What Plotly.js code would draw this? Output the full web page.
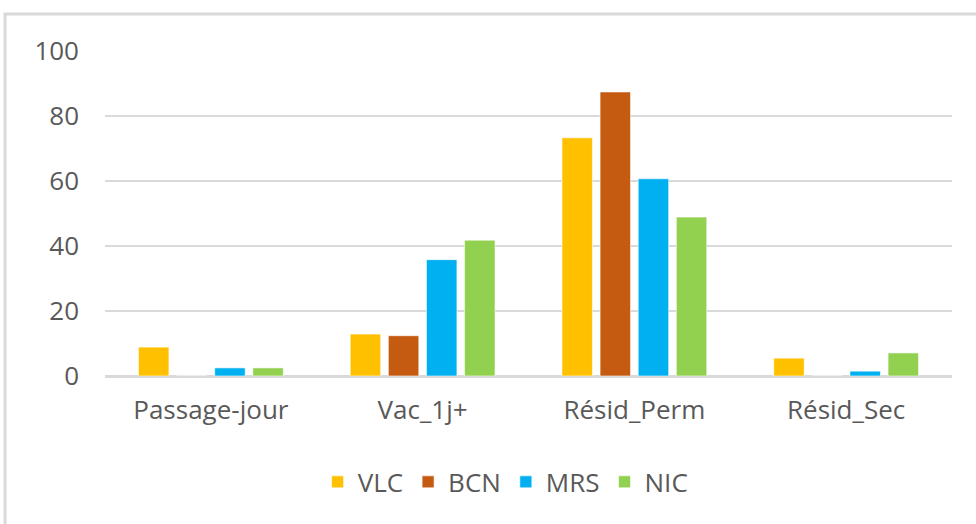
<!DOCTYPE html>
<html>
<head>
<meta charset="utf-8">
<script src="https://cdn.plot.ly/plotly-3.0.1.min.js"></script>
<style>html,body{margin:0;padding:0;background:#fff;}#chart{width:976px;height:524px;}</style>
</head>
<body>
<div id="chart"></div>
<script>
const categories = ["Passage-jour", "Vac_1j+", "Résid_Perm", "Résid_Sec"];
const seriesNames = ["VLC", "BCN", "MRS", "NIC"];
const VLC = [8.9, 12.9, 73.3, 5.5];
const BCN = [0, 12.4, 87.4, 0];
const MRS = [2.5, 35.8, 60.7, 1.5];
const NIC = [2.5, 41.8, 48.9, 7.1];
const colors = ["#FFC000", "#C55A11", "#00B0F0", "#92D050"];
const yTicks = [0, 20, 40, 60, 80, 100];

const values = [VLC, BCN, MRS, NIC];
const traces = seriesNames.map((n, i) => ({
  type: "bar",
  name: n,
  x: categories,
  y: values[i],
  marker: {color: colors[i], line: {color: "rgba(255,255,255,0.6)", width: 1}},
  hoverinfo: "skip"
}));

const fam = "Open Sans, Noto Sans, sans-serif";

const layout = {
  width: 976, height: 524,
  margin: {l: 105, r: 24, t: 51, b: 148},
  paper_bgcolor: "#fff", plot_bgcolor: "#fff",
  barmode: "group", bargap: 0.28, bargroupgap: 0.2,
  font: {family: fam, size: 26, color: "#595959"},
  showlegend: true,
  legend: {orientation: "h", x: 0.473, xanchor: "center", y: -0.326, yanchor: "middle",
           font: {family: fam, size: 26, color: "#595959"}, traceorder: "normal"},
  xaxis: {showgrid: false, showline: false, zeroline: false, ticks: "",
          tickfont: {family: fam, size: 26, color: "#595959"}, ticklabelstandoff: 16},
  yaxis: {range: [0, 100], tickvals: yTicks, ticktext: yTicks.map(String),
          showgrid: true, gridcolor: "#D9D9D9", gridwidth: 2,
          zeroline: true, zerolinecolor: "#D9D9D9", zerolinewidth: 3,
          showline: false, ticks: "", ticklabelstandoff: 25,
          tickfont: {family: fam, size: 26, color: "#595959"}},
  shapes: [{type: "rect", xref: "paper", yref: "paper",
            x0: -0.118, x1: 1.2, y0: -0.8, y1: 1.114,
            line: {color: "#D9D9D9", width: 3}, fillcolor: "rgba(0,0,0,0)", layer: "below"}]
};

Plotly.newPlot("chart", traces, layout, {displayModeBar: false, staticPlot: true});
</script>
</body>
</html>
